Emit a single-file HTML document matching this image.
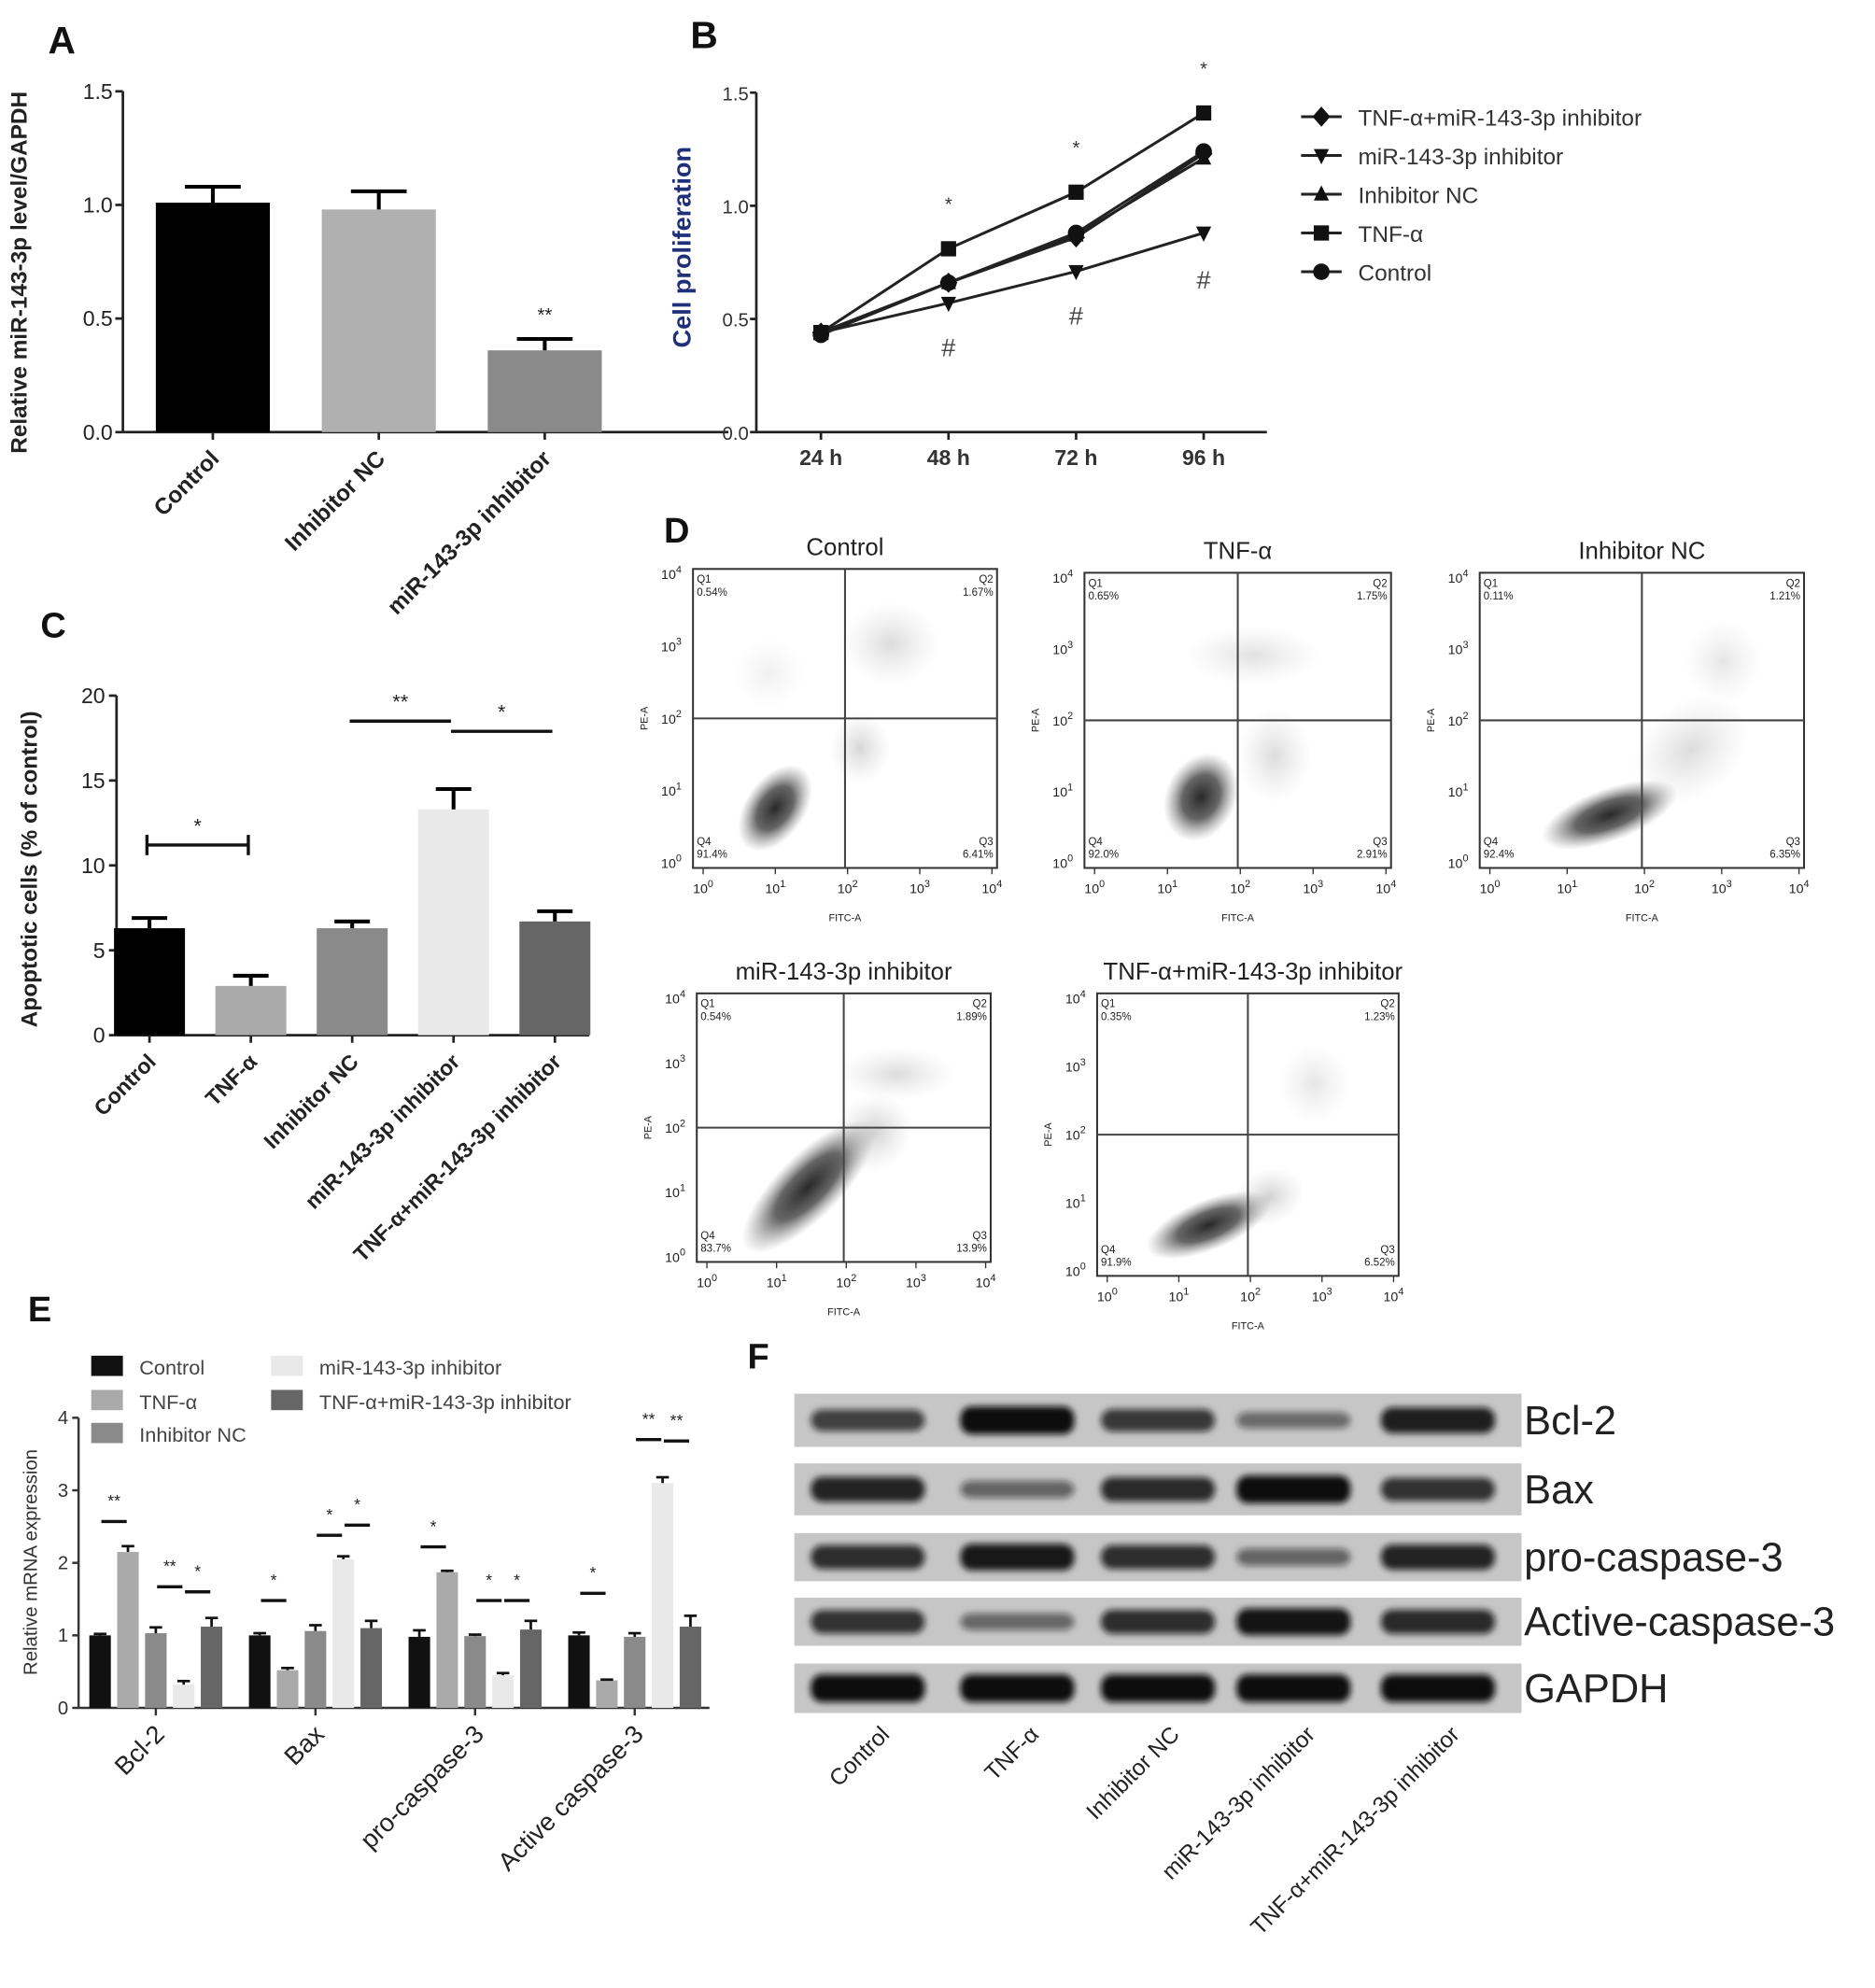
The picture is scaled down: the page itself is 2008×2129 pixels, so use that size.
<!DOCTYPE html>
<html><head><meta charset="utf-8">
<style>
html,body{margin:0;padding:0;background:#fff;}
svg{display:block;}
text{font-family:"Liberation Sans",Arial,sans-serif;}
</style></head>
<body>
<svg id="fig" width="2008" height="2129" viewBox="0 0 1480 1569" xmlns="http://www.w3.org/2000/svg">
<defs>
<radialGradient id="cl" cx="50%" cy="50%" r="50%">
<stop offset="0" stop-color="#111" stop-opacity="0.9"/>
<stop offset="0.5" stop-color="#333" stop-opacity="0.75"/>
<stop offset="1" stop-color="#777" stop-opacity="0"/>
</radialGradient>
<radialGradient id="sp" cx="50%" cy="50%" r="50%">
<stop offset="0" stop-color="#999" stop-opacity="0.45"/>
<stop offset="1" stop-color="#bbb" stop-opacity="0"/>
</radialGradient>
<filter id="blur" x="-20%" y="-50%" width="140%" height="200%"><feGaussianBlur stdDeviation="2.5"/></filter>
</defs>
</svg>
<script>
// ---------- data ----------
const aCats = ["Control","Inhibitor NC","miR-143-3p inhibitor"];
const aVals = [1.01, 0.98, 0.36];
const aErrs = [0.07, 0.08, 0.05];
const aTicks = ["0.0","0.5","1.0","1.5"];

const bTimes = ["24 h","48 h","72 h","96 h"];
const bSeriesNames = ["TNF-α+miR-143-3p inhibitor","miR-143-3p inhibitor","Inhibitor NC","TNF-α","Control"];
const bCombo = [0.44, 0.66, 0.86, 1.23];
const bMiR = [0.44, 0.57, 0.71, 0.88];
const bNC = [0.44, 0.66, 0.87, 1.21];
const bTNF = [0.44, 0.81, 1.06, 1.41];
const bControl = [0.43, 0.66, 0.88, 1.24];
const bTicks = ["0.0","0.5","1.0","1.5"];

const cCats = ["Control","TNF-α","Inhibitor NC","miR-143-3p inhibitor","TNF-α+miR-143-3p inhibitor"];
const cVals = [6.3, 2.9, 6.3, 13.3, 6.7];
const cErrs = [0.6, 0.6, 0.4, 1.2, 0.6];
const cTicks = ["0","5","10","15","20"];

const eGenes = ["Bcl-2","Bax","pro-caspase-3","Active caspase-3"];
const eGroups = ["Control","TNF-α","Inhibitor NC","miR-143-3p inhibitor","TNF-α+miR-143-3p inhibitor"];
const eControl = [1.0, 1.0, 0.98, 1.0];
const eTNF = [2.15, 0.52, 1.87, 0.38];
const eNC = [1.03, 1.06, 0.99, 0.98];
const eMiR = [0.32, 2.05, 0.45, 3.1];
const eCombo = [1.12, 1.1, 1.08, 1.12];
const eErrControl = [0.02, 0.03, 0.09, 0.04];
const eErrTNF = [0.08, 0.03, 0.02, 0.01];
const eErrNC = [0.08, 0.08, 0.02, 0.05];
const eErrMiR = [0.05, 0.04, 0.03, 0.08];
const eErrCombo = [0.12, 0.1, 0.12, 0.15];
const eTicks = ["0","1","2","3","4"];

const fProteins = ["Bcl-2","Bax","pro-caspase-3","Active-caspase-3","GAPDH"];
const fLanes = ["Control","TNF-α","Inhibitor NC","miR-143-3p inhibitor","TNF-α+miR-143-3p inhibitor"];
const fBcl2 = [0.65, 1.0, 0.7, 0.35, 0.88];
const fBax = [0.85, 0.4, 0.8, 1.0, 0.75];
const fPro = [0.78, 0.92, 0.78, 0.4, 0.85];
const fActive = [0.75, 0.38, 0.78, 0.95, 0.8];
const fGAPDH = [1.0, 1.0, 1.0, 1.0, 1.0];

const dTitles = ["Control","TNF-α","Inhibitor NC","miR-143-3p inhibitor","TNF-α+miR-143-3p inhibitor"];
const dQ1 = ["0.54%","0.65%","0.11%","0.54%","0.35%"];
const dQ2 = ["1.67%","1.75%","1.21%","1.89%","1.23%"];
const dQ3 = ["6.41%","2.91%","6.35%","13.9%","6.52%"];
const dQ4 = ["91.4%","92.0%","92.4%","83.7%","91.9%"];

// ---------- helpers ----------
const NS="http://www.w3.org/2000/svg";
const svg=document.getElementById('fig');
function el(tag,attrs,parent,txt){const e=document.createElementNS(NS,tag);for(const k in attrs)e.setAttribute(k,attrs[k]);if(txt!==undefined)e.textContent=txt;(parent||svg).appendChild(e);return e;}
function grp(parent){return el('g',{},parent);}

// ---------- Panel A ----------
(function(){
 const g=grp();
 const x0=97,y0=341,yTop=72,xEnd=575;
 const ys=v=>y0-(v/1.5)*(y0-yTop);
 const xs=i=>168+i*131;
 const t=el('text',{x:38,y:42,'font-size':30,'font-weight':'bold',fill:'#111'},g,'A');
 el('line',{x1:x0,y1:yTop,x2:x0,y2:y0,stroke:'#222','stroke-width':2},g);
 el('line',{x1:x0,y1:y0,x2:xEnd,y2:y0,stroke:'#222','stroke-width':2},g);
 aTicks.forEach((s)=>{const v=parseFloat(s);const y=ys(v);el('line',{x1:x0-6,y1:y,x2:x0,y2:y,stroke:'#222','stroke-width':2},g);
  const tt=el('text',{x:x0-8,y:y+6,'font-size':17,'text-anchor':'end',fill:'#222'},g,s);});
 const yt=el('text',{x:0,y:0,'font-size':18,'font-weight':'bold','text-anchor':'middle',fill:'#222',transform:'translate(21,215) rotate(-90)'},g,'Relative miR-143-3p level/GAPDH');
 
 const cols=['#000','#b0b0b0','#8a8a8a'];
 aCats.forEach((c,i)=>{
  const cx=xs(i),w=90;
  const r=el('rect',{x:cx-w/2,y:ys(aVals[i]),width:w,height:y0-ys(aVals[i]),fill:cols[i]},g);
  
  const ye=ys(aVals[i]+aErrs[i]);
  el('line',{x1:cx,y1:ys(aVals[i]),x2:cx,y2:ye,stroke:'#000','stroke-width':3},g);
  el('line',{x1:cx-22,y1:ye,x2:cx+22,y2:ye,stroke:'#000','stroke-width':3},g);
  el('line',{x1:cx,y1:y0,x2:cx,y2:y0+6,stroke:'#222','stroke-width':2},g);
  const xl=el('text',{x:0,y:0,'font-size':18,'font-weight':'bold','text-anchor':'end',fill:'#222',transform:`translate(${cx+6},${y0+22}) rotate(-45)`},g,c);
  
  if(i===2){const s=el('text',{x:cx,y:ye-14,'font-size':15,'text-anchor':'middle',fill:'#222'},g,'**');}
 });
})();

// ---------- Panel B ----------
(function(){
 const g=grp();
 const x0=597,y0=341,yTop=73,xEnd=1000;
 const ys=v=>y0-(v/1.5)*(y0-yTop);
 const xs=i=>648+i*100.7;
 const t=el('text',{x:545,y:38,'font-size':30,'font-weight':'bold',fill:'#111'},g,'B');
 el('line',{x1:x0,y1:yTop,x2:x0,y2:y0,stroke:'#222','stroke-width':2},g);
 el('line',{x1:x0,y1:y0,x2:xEnd,y2:y0,stroke:'#222','stroke-width':2},g);
 bTicks.forEach(s=>{const y=ys(parseFloat(s));el('line',{x1:x0-5,y1:y,x2:x0,y2:y,stroke:'#222','stroke-width':2},g);
  const tt=el('text',{x:x0-6,y:y+6,'font-size':15,'text-anchor':'end',fill:'#333'},g,s);});
 bTimes.forEach((s,i)=>{el('line',{x1:xs(i),y1:y0,x2:xs(i),y2:y0+6,stroke:'#222','stroke-width':2},g);
  const tt=el('text',{x:xs(i),y:y0+26,'font-size':17,'font-weight':'bold','text-anchor':'middle',fill:'#333'},g,s);});
 const yt=el('text',{x:0,y:0,'font-size':20,'font-weight':'bold','text-anchor':'middle',fill:'#1f2f78',transform:'translate(545,195) rotate(-90)'},g,'Cell proliferation');
 
 const series=[bCombo,bMiR,bNC,bTNF,bControl];
 const markers=['diamond','tridown','triup','square','circle'];
 function marker(type,x,y,parent){
  if(type==='square')return el('rect',{x:x-6,y:y-6,width:12,height:12,fill:'#111'},parent);
  if(type==='circle')return el('circle',{cx:x,cy:y,r:6.5,fill:'#111'},parent);
  if(type==='diamond')return el('polygon',{points:`${x},${y-8} ${x+7},${y} ${x},${y+8} ${x-7},${y}`,fill:'#111'},parent);
  if(type==='triup')return el('polygon',{points:`${x},${y-7} ${x+6},${y+5} ${x-6},${y+5}`,fill:'#111'},parent);
  return el('polygon',{points:`${x-6},${y-5} ${x+6},${y-5} ${x},${y+7}`,fill:'#111'},parent);
 }
 series.forEach((arr,si)=>{
  const sg=grp(g);
  const pts=arr.map((v,i)=>xs(i)+','+ys(v)).join(' ');
  el('polyline',{points:pts,fill:'none',stroke:'#222','stroke-width':2.2},sg);
  arr.forEach((v,i)=>{const m=marker(markers[si],xs(i),ys(v),sg);});
 });
 for(let i=1;i<4;i++){
  const s=el('text',{x:xs(i),y:ys(bTNF[i])-30,'font-size':15,'text-anchor':'middle',fill:'#333'},g,'*');
  const h=el('text',{x:xs(i),y:ys(bMiR[i])+(i===3?44:42),'font-size':20,'text-anchor':'middle',fill:'#444'},g,'#');
 }
 const lg=grp(g);
 bSeriesNames.forEach((n,i)=>{const y=92+i*30.6;
  const e=grp(lg);
  el('line',{x1:1027,y1:y,x2:1059,y2:y,stroke:'#222','stroke-width':2.2},e);marker(markers[i],1043,y,e);
  el('text',{x:1072,y:y+7,'font-size':18,fill:'#333'},e,n);});
})();

// ---------- Panel C ----------
(function(){
 const g=grp();
 const x0=92,y0=817,yTop=549,xEnd=465;
 const ys=v=>y0-(v/20)*(y0-yTop);
 const xs=i=>118+i*80;
 const t=el('text',{x:32,y:503,'font-size':28,'font-weight':'bold',fill:'#111'},g,'C');
 el('line',{x1:x0,y1:yTop,x2:x0,y2:y0,stroke:'#222','stroke-width':2},g);
 el('line',{x1:x0,y1:y0,x2:xEnd,y2:y0,stroke:'#222','stroke-width':2},g);
 cTicks.forEach(s=>{const y=ys(parseFloat(s));el('line',{x1:x0-6,y1:y,x2:x0,y2:y,stroke:'#222','stroke-width':2},g);
  const tt=el('text',{x:x0-9,y:y+6,'font-size':17,'text-anchor':'end',fill:'#222'},g,s);});
 const yt=el('text',{x:0,y:0,'font-size':18,'font-weight':'bold','text-anchor':'middle',fill:'#222',transform:'translate(29,686) rotate(-90)'},g,'Apoptotic cells (% of control)');
 
 const cols=['#000','#aaa','#8a8a8a','#e9e9e9','#666'];
 cCats.forEach((c,i)=>{const cx=xs(i),w=56;
  const r=el('rect',{x:cx-w/2,y:ys(cVals[i]),width:w,height:y0-ys(cVals[i]),fill:cols[i]},g);
  
  const ye=ys(cVals[i]+cErrs[i]);
  el('line',{x1:cx,y1:ys(cVals[i]),x2:cx,y2:ye,stroke:'#000','stroke-width':3},g);
  el('line',{x1:cx-14,y1:ye,x2:cx+14,y2:ye,stroke:'#000','stroke-width':3},g);
  el('line',{x1:cx,y1:y0,x2:cx,y2:y0+6,stroke:'#222','stroke-width':2},g);
  const xl=el('text',{x:0,y:0,'font-size':17,'font-weight':'bold','text-anchor':'end',fill:'#222',transform:`translate(${cx+6},${y0+22}) rotate(-45)`},g,c);
  });
 const sig=[[0,1,11.2,'*'],[2,3,18.5,'**'],[3,4,17.9,'*']];
 sig.forEach(s=>{const y=ys(s[2]);const a=xs(s[0])-2,b=xs(s[1])-2;
  const sg=grp(g);
  el('line',{x1:a,y1:y,x2:b,y2:y,stroke:'#111','stroke-width':2.5},sg);
  if(s[0]===0){el('line',{x1:a,y1:y-8,x2:a,y2:y+8,stroke:'#111','stroke-width':2.5},sg);el('line',{x1:b,y1:y-8,x2:b,y2:y+8,stroke:'#111','stroke-width':2.5},sg);}
  el('text',{x:(a+b)/2,y:y-10,'font-size':16,'text-anchor':'middle',fill:'#222'},sg,s[3]);});
})();

// ---------- Panel D ----------
(function(){
 const g=grp();
 const t=el('text',{x:524,y:428,'font-size':28,'font-weight':'bold',fill:'#111'},g,'D');
 const boxes=[[547,449,787,685],[856,452,1098,685],[1168,452,1424,685],[550,784,782,996],[866,784,1104,1007]];
 const clusters=[
  [[0.27,0.8,0.16,0.1,-55,1],[0.55,0.6,0.1,0.12,0,0.4],[0.65,0.25,0.16,0.14,0,0.35],[0.25,0.35,0.12,0.12,0,0.15]],
  [[0.38,0.76,0.15,0.12,-65,1],[0.62,0.62,0.12,0.16,0,0.35],[0.55,0.28,0.22,0.1,0,0.3]],
  [[0.4,0.82,0.22,0.09,-20,1],[0.65,0.6,0.2,0.16,-40,0.35],[0.75,0.3,0.12,0.14,0,0.25]],
  [[0.38,0.72,0.3,0.12,-45,1],[0.6,0.52,0.14,0.14,-40,0.45],[0.68,0.3,0.2,0.1,0,0.35]],
  [[0.37,0.82,0.22,0.09,-22,1],[0.57,0.72,0.12,0.1,-20,0.45],[0.72,0.32,0.12,0.14,0,0.25]]];
 boxes.forEach((b,i)=>{
  const [x1,y1,x2,y2]=b;const w=x2-x1,h=y2-y1;
  const pg=grp(g);
  const tt=el('text',{x:(x1+x2)/2+(i===4?4:0),y:y1-11,'font-size':19,'text-anchor':'middle',fill:'#222'},pg,dTitles[i]);
  clusters[i].forEach(c=>{
   const cx=x1+c[0]*w,cy=y1+c[1]*h;
   el('ellipse',{cx:cx,cy:cy,rx:c[2]*w,ry:c[3]*h,fill:c[5]>0.5?'url(#cl)':'url(#sp)',opacity:c[5]>0.5?1:Math.min(1,c[5]*2.2),transform:`rotate(${c[4]} ${cx} ${cy})`},pg);
  });
  el('rect',{x:x1,y:y1,width:w,height:h,fill:'none',stroke:'#333','stroke-width':1.5},pg);
  const mx=x1+w*0.5,my=y1+h*0.5;
  el('line',{x1:mx,y1:y1,x2:mx,y2:y2,stroke:'#444','stroke-width':1.5},pg);
  el('line',{x1:x1,y1:my,x2:x2,y2:my,stroke:'#444','stroke-width':1.5},pg);
  const fs=8.5;
  el('text',{x:x1+3,y:y1+11,'font-size':fs,fill:'#222'},pg,'Q1');
  el('text',{x:x1+3,y:y1+21,'font-size':fs,fill:'#222'},pg,dQ1[i]);
  el('text',{x:x2-3,y:y1+11,'font-size':fs,fill:'#222','text-anchor':'end'},pg,'Q2');
  el('text',{x:x2-3,y:y1+21,'font-size':fs,fill:'#222','text-anchor':'end'},pg,dQ2[i]);
  el('text',{x:x1+3,y:y2-18,'font-size':fs,fill:'#222'},pg,'Q4');
  el('text',{x:x1+3,y:y2-8,'font-size':fs,fill:'#222'},pg,dQ4[i]);
  el('text',{x:x2-3,y:y2-18,'font-size':fs,fill:'#222','text-anchor':'end'},pg,'Q3');
  el('text',{x:x2-3,y:y2-8,'font-size':fs,fill:'#222','text-anchor':'end'},pg,dQ3[i]);
  for(let k=0;k<5;k++){
   const ty=y2-4-k*(h-8)/4; const tx=x1+8+k*(w-12)/4;
   const a=el('text',{x:x1-9,y:ty+4,'font-size':10.5,'text-anchor':'end',fill:'#222'},pg);
   a.innerHTML='10<tspan dy="-5" font-size="8">'+k+'</tspan>';
   const bb=el('text',{x:tx,y:y2+20,'font-size':10.5,'text-anchor':'middle',fill:'#222'},pg);
   bb.innerHTML='10<tspan dy="-5" font-size="8">'+k+'</tspan>';
   el('line',{x1:tx,y1:y2,x2:tx,y2:y2+5,stroke:'#333','stroke-width':1},pg);
  }
  el('text',{x:0,y:0,'font-size':8,'text-anchor':'middle',fill:'#222',transform:`translate(${x1-36},${y1+h/2}) rotate(-90)`},pg,'PE-A');
  el('text',{x:(x1+x2)/2,y:y2+42,'font-size':8,'text-anchor':'middle',fill:'#222'},pg,'FITC-A');
 });
})();

// ---------- Panel E ----------
(function(){
 const g=grp();
 const x0=62,y0=1348,yTop=1119,xEnd=560;
 const ys=v=>y0-(v/4)*(y0-yTop);
 const bx=(gi,bi)=>79+gi*126+bi*22;
 const t=el('text',{x:22,y:1043,'font-size':28,'font-weight':'bold',fill:'#111'},g,'E');
 el('line',{x1:x0,y1:yTop,x2:x0,y2:y0,stroke:'#333','stroke-width':1.8},g);
 el('line',{x1:x0,y1:y0,x2:xEnd,y2:y0,stroke:'#333','stroke-width':1.8},g);
 eTicks.forEach(s=>{const y=ys(parseFloat(s));el('line',{x1:x0-5,y1:y,x2:x0,y2:y,stroke:'#333','stroke-width':1.8},g);
  const tt=el('text',{x:x0-8,y:y+5,'font-size':15,'text-anchor':'end',fill:'#333'},g,s);});
 const yt=el('text',{x:0,y:0,'font-size':15,'text-anchor':'middle',fill:'#333',transform:'translate(29,1233) rotate(-90)'},g,'Relative mRNA expression');
 
 const cols=['#111','#aaa','#8a8a8a','#e9e9e9','#666'];
 const vals=[eControl,eTNF,eNC,eMiR,eCombo];
 const errs=[eErrControl,eErrTNF,eErrNC,eErrMiR,eErrCombo];
 eGenes.forEach((gn,gi)=>{
  vals.forEach((arr,bi)=>{const cx=bx(gi,bi),w=17,v=arr[gi];
   const r=el('rect',{x:cx-w/2,y:ys(v),width:w,height:y0-ys(v),fill:cols[bi]},g);
   
   const ye=ys(v+errs[bi][gi]);
   el('line',{x1:cx,y1:ys(v),x2:cx,y2:ye,stroke:'#111','stroke-width':2},g);
   el('line',{x1:cx-5,y1:ye,x2:cx+5,y2:ye,stroke:'#111','stroke-width':2},g);
  });
  const gc=bx(gi,2);
  el('line',{x1:gc,y1:y0,x2:gc,y2:y0+6,stroke:'#333','stroke-width':1.8},g);
  const xl=el('text',{x:0,y:0,'font-size':20,'text-anchor':'end',fill:'#222',transform:`translate(${gc+8},${y0+22}) rotate(-45)`},g,gn);
  
 });
 const sig=[[0,0,2.57,'**'],[0,2,1.67,'**'],[0,3,1.6,'*'],[1,0,1.48,'*'],[1,2,2.38,'*'],[1,3,2.52,'*'],[2,0,2.22,'*'],[2,2,1.48,'*'],[2,3,1.48,'*'],[3,0,1.58,'*'],[3,2,3.7,'**'],[3,3,3.68,'**']];
 sig.forEach(s=>{const a=bx(s[0],s[1])+1,b=bx(s[0],s[1]+1)-1;const y=ys(s[2]);
  const sg=grp(g);
  el('line',{x1:a,y1:y,x2:b,y2:y,stroke:'#111','stroke-width':2.5},sg);
  el('text',{x:(a+b)/2,y:y-12,'font-size':13,'text-anchor':'middle',fill:'#222'},sg,s[3]);});
 const lg=grp(g);
 const lpos=[[72,1079],[72,1106],[72,1132],[214,1079],[214,1106]];
 eGroups.forEach((n,i)=>{const e=grp(lg);
  el('rect',{x:lpos[i][0],y:lpos[i][1]-9,width:25,height:16,fill:cols[i]},e);
  el('text',{x:lpos[i][0]+38,y:lpos[i][1]+6,'font-size':16,fill:'#444'},e,n);});
})();

// ---------- Panel F ----------
(function(){
 const g=grp();
 const t=el('text',{x:590,y:1080,'font-size':28,'font-weight':'bold',fill:'#111'},g,'F');
 const rows=[[1100,1142],[1155,1196],[1210,1248],[1261,1299],[1313,1352]];
 const lanes=[685,803,914,1021,1135];
 const ints=[fBcl2,fBax,fPro,fActive,fGAPDH];
 fProteins.forEach((p,ri)=>{
  const [ya,yb]=rows[ri];const cy=(ya+yb)/2;
  const rg=grp(g);
  el('rect',{x:627,y:ya,width:574,height:yb-ya,fill:'#c6c6c6'},rg);
  lanes.forEach((lx,li)=>{const v=ints[ri][li];
   const hh=8+14*v;
   const b=el('rect',{x:lx-45,y:cy-hh/2,width:90,height:hh,rx:9,fill:'#111','fill-opacity':Math.min(1,0.25+0.75*v),filter:'url(#blur)'},rg);
   });
  const tx=el('text',{x:1203,y:cy+11,'font-size':32,fill:'#222'},rg,p);
 });
 fLanes.forEach((l,li)=>{const xl=el('text',{x:0,y:0,'font-size':18,'text-anchor':'end',fill:'#222',transform:`translate(${lanes[li]+18},${1370}) rotate(-45)`},g,l);
  });
})();
</script>
</body></html>
